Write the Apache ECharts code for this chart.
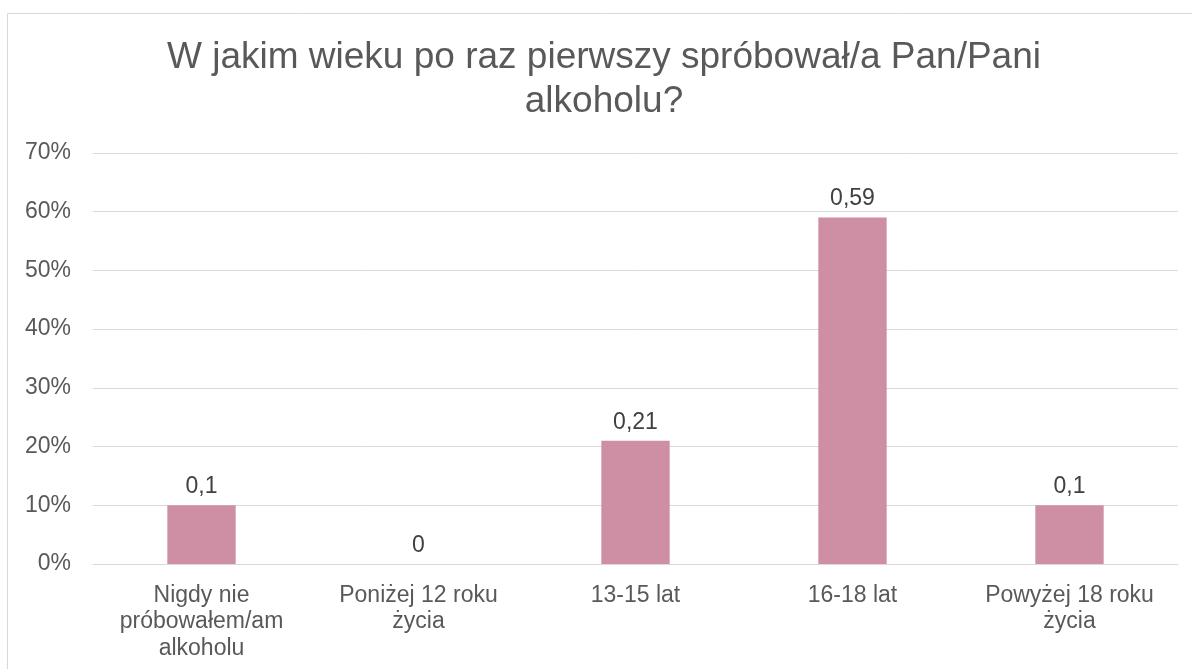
<!DOCTYPE html>
<html>
<head>
<meta charset="utf-8">
<script src="https://cdn.jsdelivr.net/npm/echarts@6/dist/echarts.min.js"></script>
<style>html,body{margin:0;padding:0;background:#fff;}#c{width:1192px;height:669px;}</style>
</head>
<body>
<div id="c"></div>
<script>
const titleText = 'W jakim wieku po raz pierwszy spróbował/a Pan/Pani\nalkoholu?';
const categories = ['Nigdy nie\npróbowałem/am\nalkoholu', 'Poniżej 12 roku\nżycia', '13-15 lat', '16-18 lat', 'Powyżej 18 roku\nżycia'];
const values = [0.1, 0, 0.21, 0.59, 0.1];
const yTicks = [0, 0.1, 0.2, 0.3, 0.4, 0.5, 0.6, 0.7];

const font = 'Liberation Sans, Arial, sans-serif';
const chart = echarts.init(document.getElementById('c'), null, {renderer: 'canvas'});
chart.setOption({
  animation: false,
  backgroundColor: '#fff',
  graphic: [{
    type: 'rect', silent: true, z: -1,
    shape: {x: 7.5, y: 13.5, width: 1300, height: 800},
    style: {fill: 'none', stroke: '#D9D9D9', lineWidth: 1}
  }],
  title: {
    text: titleText,
    left: 599,
    textAlign: 'center',
    top: 31,
    textStyle: {fontFamily: font, fontSize: 37, fontWeight: 'normal', color: '#595959', lineHeight: 44}
  },
  grid: {left: 93, right: 14, top: 153, bottom: 105, containLabel: false},
  xAxis: {
    type: 'category',
    data: categories,
    axisLine: {show: true, lineStyle: {color: '#D9D9D9', width: 1}},
    axisTick: {show: false},
    axisLabel: {
      interval: 0, margin: 18,
      fontFamily: font, fontSize: 23, color: '#595959', lineHeight: 26.5
    }
  },
  yAxis: {
    type: 'value',
    min: yTicks[0], max: yTicks[yTicks.length - 1], interval: 0.1,
    axisLine: {show: false},
    axisTick: {show: false},
    splitLine: {lineStyle: {color: '#D9D9D9', width: 1}},
    axisLabel: {
      margin: 22, fontFamily: font, fontSize: 23, color: '#595959',
      formatter: v => Math.round(v * 100) + '%'
    }
  },
  series: [{
    type: 'bar',
    data: values,
    barWidth: '31.5%',
    itemStyle: {color: '#CE8FA4'},
    label: {
      show: true, position: 'top', distance: 7,
      fontFamily: font, fontSize: 23, color: '#404040',
      formatter: p => String(p.value).replace('.', ',')
    }
  }]
});
</script>
</body>
</html>
